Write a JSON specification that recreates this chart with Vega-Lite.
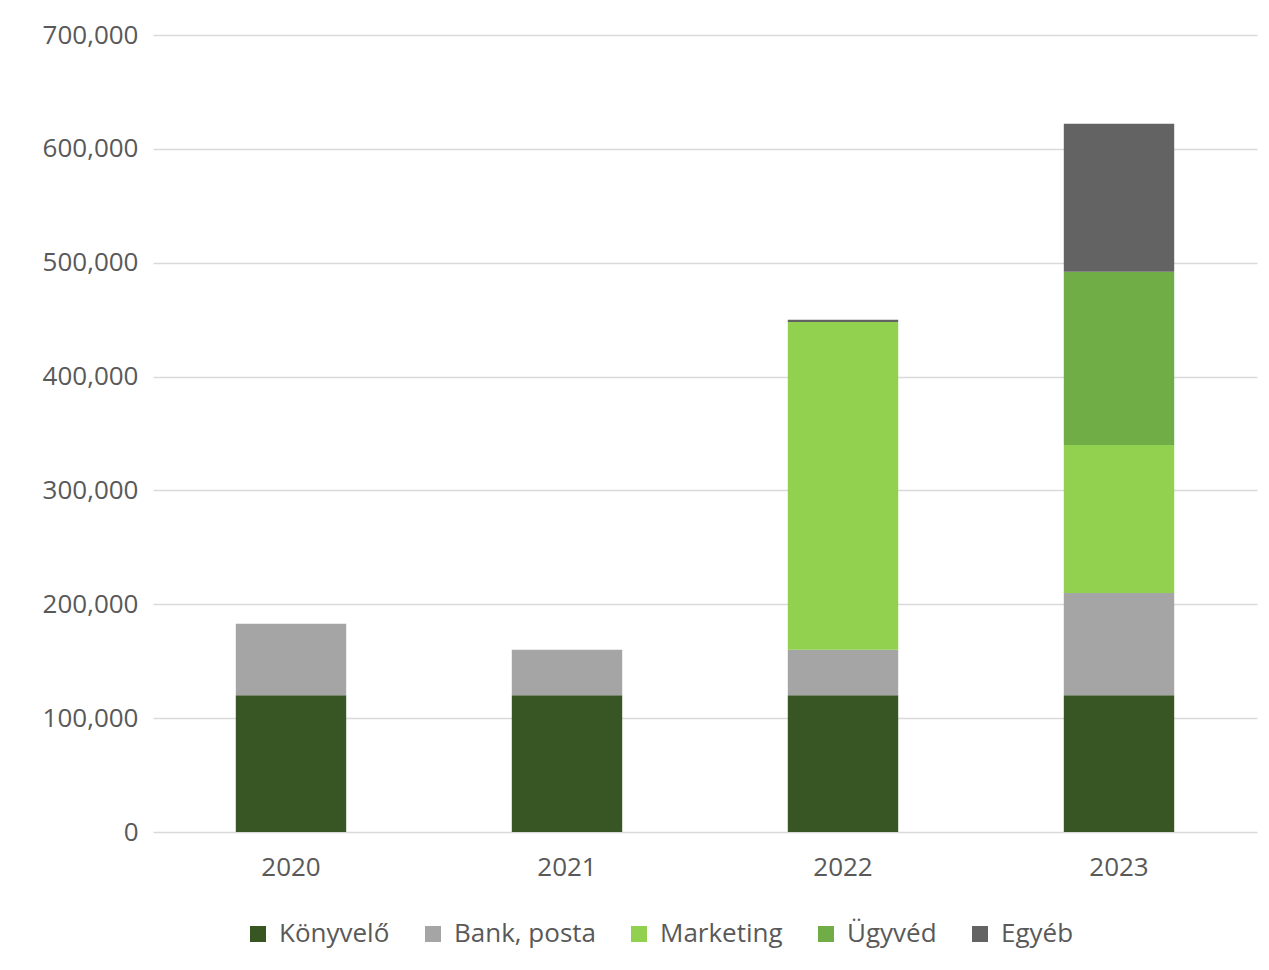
{
  "$schema": "https://vega.github.io/schema/vega-lite/v6.json",
  "width": 1104,
  "height": 797,
  "autosize": {"type": "none"},
  "padding": {"left": 153, "top": 35, "right": 12, "bottom": 138},
  "background": "white",
  "config": {
    "view": {"stroke": null},
    "font": "Open Sans"
  },
  "data": {
    "values": [
      {"year": "2020", "category": "Könyvelő", "amount": 120000},
      {"year": "2020", "category": "Bank, posta", "amount": 63000},
      {"year": "2021", "category": "Könyvelő", "amount": 120000},
      {"year": "2021", "category": "Bank, posta", "amount": 40000},
      {"year": "2022", "category": "Könyvelő", "amount": 120000},
      {"year": "2022", "category": "Bank, posta", "amount": 40000},
      {"year": "2022", "category": "Marketing", "amount": 288000},
      {"year": "2022", "category": "Egyéb", "amount": 2000},
      {"year": "2023", "category": "Könyvelő", "amount": 120000},
      {"year": "2023", "category": "Bank, posta", "amount": 90000},
      {"year": "2023", "category": "Marketing", "amount": 130000},
      {"year": "2023", "category": "Ügyvéd", "amount": 152000},
      {"year": "2023", "category": "Egyéb", "amount": 130000}
    ]
  },
  "transform": [
    {"calculate": "indexof(['Könyvelő','Bank, posta','Marketing','Ügyvéd','Egyéb'], datum.category)", "as": "stackRank"}
  ],
  "mark": {"type": "bar"},
  "encoding": {
    "x": {
      "field": "year",
      "type": "ordinal",
      "scale": {"paddingInner": 0.6, "paddingOuter": 0.3},
      "axis": {
        "title": null,
        "labelAngle": 0,
        "labelFontSize": 26,
        "labelColor": "#595959",
        "labelPadding": 22,
        "ticks": false,
        "domain": false,
        "grid": false
      }
    },
    "y": {
      "field": "amount",
      "type": "quantitative",
      "aggregate": "sum",
      "stack": "zero",
      "scale": {"domain": [0, 700000]},
      "axis": {
        "title": null,
        "values": [0, 100000, 200000, 300000, 400000, 500000, 600000, 700000],
        "format": ",d",
        "labelFontSize": 26,
        "labelColor": "#595959",
        "labelPadding": 15,
        "ticks": false,
        "domain": false,
        "gridColor": "#d9d9d9",
        "gridWidth": 1.5
      }
    },
    "color": {
      "field": "category",
      "type": "nominal",
      "sort": ["Könyvelő", "Bank, posta", "Marketing", "Ügyvéd", "Egyéb"],
      "scale": {
        "domain": ["Könyvelő", "Bank, posta", "Marketing", "Ügyvéd", "Egyéb"],
        "range": ["#375623", "#a5a5a5", "#92d050", "#70ad47", "#636363"]
      },
      "legend": {
        "title": null,
        "orient": "none",
        "direction": "horizontal",
        "legendX": 92,
        "legendY": 886,
        "symbolType": "square",
        "symbolSize": 256,
        "symbolStrokeWidth": 0,
        "labelFontSize": 26,
        "labelColor": "#595959",
        "labelOffset": 8,
        "columnPadding": 30
      }
    },
    "order": {"field": "stackRank", "type": "quantitative", "sort": "ascending"}
  }
}
